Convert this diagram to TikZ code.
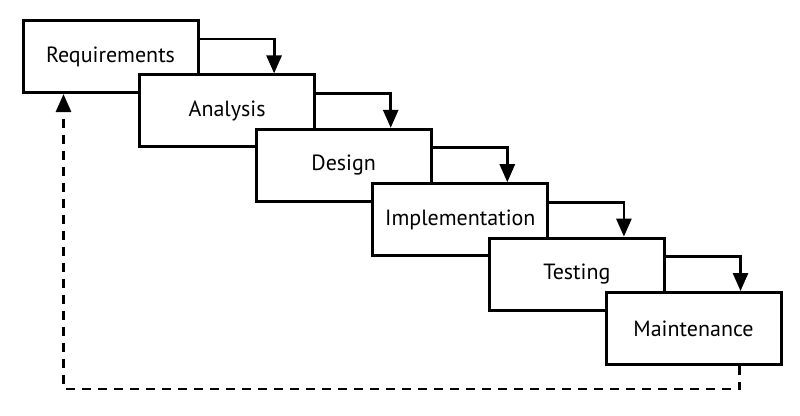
\documentclass[tikz,border=0pt]{standalone}
\usepackage{fontspec}
\setmainfont{PT Sans}
\usetikzlibrary{arrows.meta}
\begin{document}
\begin{tikzpicture}[x=1pt,y=-1pt,
  phase/.style={draw, line width=3pt, fill=white, minimum width=175pt, minimum height=72pt, inner sep=0pt, font=\fontsize{22}{25}\selectfont},
  flow/.style={line width=2.8pt, -{Triangle[length=18pt,width=15pt]}},
  back/.style={line width=2.8pt, dash pattern=on 9pt off 7pt, -{Triangle[length=18pt,width=15pt]}}]
\useasboundingbox (0,0) rectangle (800,415);
\node[phase] (req) at (110.5,56.5) {Requirements};
\node[phase] (ana) at (227.1,110.9) {Analysis};
\node[phase] (des) at (343.7,165.3) {Design};
\node[phase] (imp) at (460.3,219.7) {Implementation};
\node[phase] (tes) at (576.9,274.1) {Testing};
\node[phase] (mai) at (693.5,328.5) {Maintenance};
\draw[flow] ([yshift=-20pt]req.north east) -| ([xshift=136pt]ana.north west);
\draw[flow] ([yshift=-20pt]ana.north east) -| ([xshift=136pt]des.north west);
\draw[flow] ([yshift=-20pt]des.north east) -| ([xshift=136pt]imp.north west);
\draw[flow] ([yshift=-20pt]imp.north east) -| ([xshift=136pt]tes.north west);
\draw[flow] ([yshift=-20pt]tes.north east) -| ([xshift=136pt]mai.north west);
\draw[back] ([xshift=135pt]mai.south west) |- ([xshift=42pt,yshift=-295pt]req.south west) -- ([xshift=42pt]req.south west);
\end{tikzpicture}
\end{document}
